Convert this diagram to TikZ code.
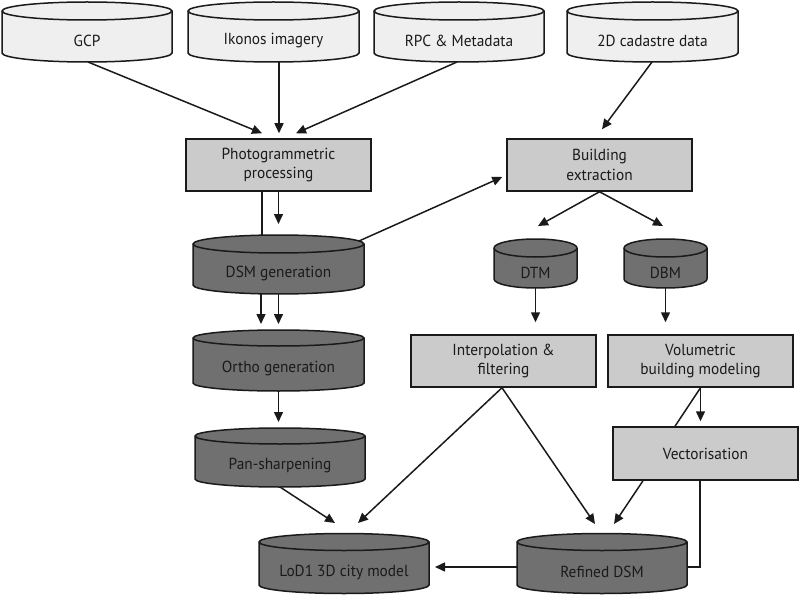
\documentclass[tikz,border=0pt]{standalone}
\usepackage{fontspec}
\setmainfont{PT Sans}[FakeStretch=0.96]
\usetikzlibrary{arrows.meta,calc}
\definecolor{lightcyl}{HTML}{EFEFEF}
\definecolor{boxgray}{HTML}{CBCBCB}
\definecolor{darkcyl}{HTML}{707070}
\definecolor{ink}{HTML}{1A1A1A}
\tikzset{
  cylline/.style={draw=ink, line width=1.5pt},
  cylnode/.style={inner sep=0pt, outer sep=0pt, draw=none},
  procbox/.style={draw=ink, line width=1.5pt, fill=boxgray, minimum width=185pt, minimum height=52pt, inner sep=2pt, align=center, text=ink},
  arr/.style={draw=ink, line width=1.5pt, -{Triangle[length=10pt,width=9pt]}},
  plain/.style={draw=ink, line width=1.5pt},
}
\newcommand\mycyl[8]{%
  \filldraw[cylline, fill=#7] (#2-#5/2,#3) -- (#2-#5/2,#4)
    arc[start angle=180,end angle=0,x radius=#5/2,y radius=#6]
    -- (#2+#5/2,#3)
    arc[start angle=0,end angle=-180,x radius=#5/2,y radius=#6] -- cycle;
  \draw[cylline] (#2-#5/2,#3) arc[start angle=180,end angle=0,x radius=#5/2,y radius=#6];
  \node[cylnode, minimum width=#5pt, minimum height={(#4-#3+2*#6)*1pt},
        label={[yshift=-#6pt, text=ink]center:#8}] (#1) at (#2,{(#3+#4)/2}) {};
}
\begin{document}
\begin{tikzpicture}[x=1pt,y=-1pt, font=\fontsize{16}{19.5}\selectfont]
\useasboundingbox (0,0) rectangle (800,596);
% input cylinders
\mycyl{gcp}{87}{11}{53}{170}{9}{lightcyl}{GCP}
\mycyl{ikonos}{273.5}{11}{53}{171}{9}{lightcyl}{Ikonos imagery}
\mycyl{rpc}{459}{11}{53}{170}{9}{lightcyl}{RPC \& Metadata}
\mycyl{cad}{652.5}{11}{53}{171}{9}{lightcyl}{2D cadastre data}
% boxes
\node[procbox] (photo) at (278.5,165) {Photogrammetric\\processing};
\node[procbox] (building) at (599.5,165) {Building\\extraction};
\node[procbox] (interp) at (503.5,361) {Interpolation \&\\filtering};
\node[procbox] (volum) at (700.5,361) {Volumetric\\building modeling};
\node[procbox, minimum height=53pt] (vector) at (705.5,453.5) {Vectorisation};
% dark cylinders
\mycyl{dsm}{278.5}{244}{285}{171}{9}{darkcyl}{DSM generation}
\mycyl{ortho}{278.5}{338}{383}{171}{8}{darkcyl}{Ortho generation}
\mycyl{pan}{280}{436}{479}{170}{8}{darkcyl}{Pan-sharpening}
\mycyl{lod}{344}{542}{585}{170}{8.5}{darkcyl}{LoD1 3D city model}
\mycyl{ref}{602}{542}{585}{170}{8.5}{darkcyl}{Refined DSM}
\mycyl{dtm}{535.5}{248}{279}{83}{9}{darkcyl}{DTM}
\mycyl{dbm}{665.5}{248}{279}{83}{9}{darkcyl}{DBM}
% connectors
\draw[arr] ($(gcp.south)+(1,0)$) -- ($(photo.north)+(-16.5,-5)$);
\draw[arr] ($(ikonos.south)+(5.5,0)$) -- ($(photo.north)+(0.5,-5)$);
\draw[arr] ($(rpc.south)+(-2,0)$) -- ($(photo.north)+(17.5,-5)$);
\draw[arr] ($(cad.south)+(-0.5,0)$) -- ($(building.north)+(2.5,-9)$);
\draw[plain] ($(photo.south)+(-16.5,0)$) -- ($(dsm.north)+(-16.5,0.5)$);
\draw[arr] (photo.south) -- ($(dsm.north)+(0,-11)$);
\draw[arr] ($(dsm.north)+(80.5,6)$) -- ($(building.west)+(-4,12)$);
\draw[arr] ($(dsm.south)+(-17.5,0)$) -- ($(ortho.north)+(-17.5,-6)$);
\draw[arr] (dsm.south) -- ($(ortho.north)+(0,-6)$);
\draw[arr, shorten >=6pt] (ortho.south) -- (ortho.south |- pan.north);
\draw[arr] (pan.south) -- ($(lod.north)+(-9,-10.5)$);
\draw[arr] ($(interp.south)+(-1.5,0)$) -- ($(lod.north)+(14,-10.5)$);
\draw[arr] ($(interp.south)+(-1.5,0)$) -- ($(ref.north)+(-7,-9.5)$);
\draw[arr] (building.south) -- ($(dtm.north)+(2.5,-13)$);
\draw[arr] (building.south) -- ($(dbm.north)+(-2.5,-13)$);
\draw[arr, shorten >=12pt] (dtm.south) -- (dtm.south |- interp.north);
\draw[arr, shorten >=12pt] (dbm.south) -- (dbm.south |- volum.north);
\draw[arr, shorten >=5pt] (volum.south) -- (volum.south |- vector.north);
\draw[plain] (volum.south) -- ($(vector.north)+(-30.5,0)$);
\draw[arr] ($(vector.south)+(-62.5,0)$) -- ($(ref.north)+(12,-9.5)$);
\draw[plain] ($(vector.south)+(-5.5,0)$) |- ($(ref.east)+(0,3.5)$);
\draw[arr] ($(ref.west)+(0,3.5)$) -- ($(lod.east)+(6,3.5)$);
\end{tikzpicture}
\end{document}
